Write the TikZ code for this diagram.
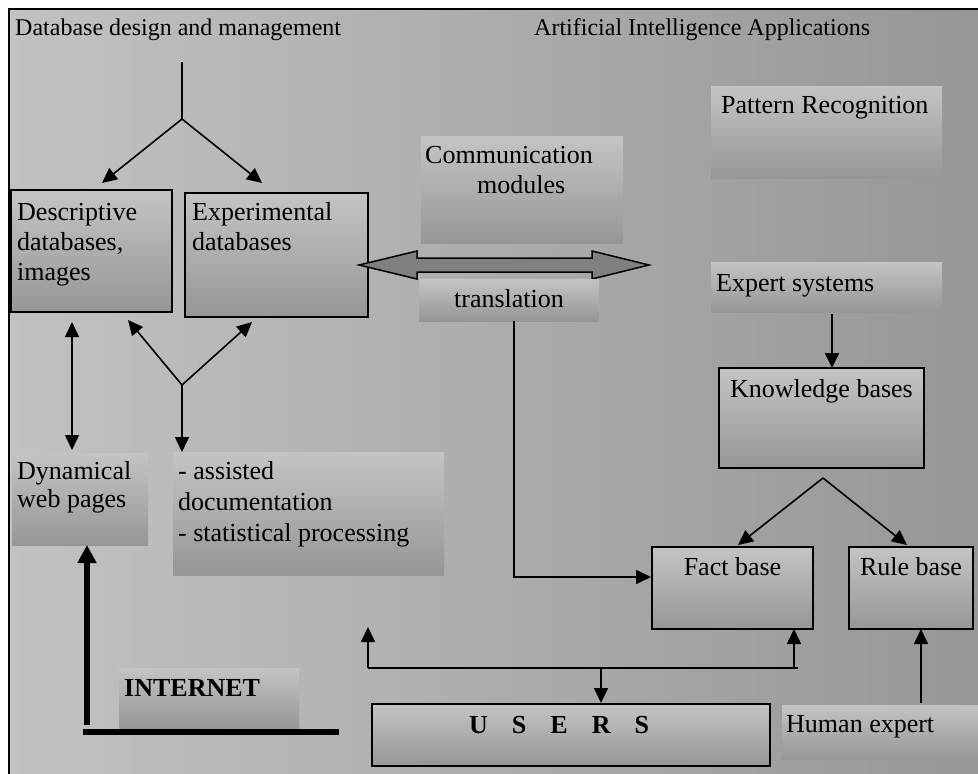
\documentclass[tikz,border=0pt]{standalone}
\usepackage{fontspec}
\setmainfont{Liberation Serif}
\usetikzlibrary{arrows.meta}

\definecolor{bgL}{RGB}{194,194,194}
\definecolor{bgR}{RGB}{150,150,150}
\definecolor{boxT}{RGB}{196,196,196}
\definecolor{boxB}{RGB}{150,150,150}
\definecolor{linkfill}{RGB}{128,128,128}

% invisible strut fixing the height of the first text line
\newcommand{\firstline}{\rule{0pt}{20pt}}

\begin{document}
\begin{tikzpicture}[x=1pt,y=-1pt,
  panel/.style={left color=bgL,right color=bgR,draw=black,line width=2pt},
  shadebox/.style={top color=boxT,bottom color=boxB,inner sep=0pt,outer sep=0pt,anchor=north west},
  framed/.style={shadebox,draw=black,line width=1.5pt},
  body/.style={font=\fontsize{26pt}{30pt}\selectfont,inner sep=0pt,align=left},
  head/.style={font=\fontsize{24pt}{28pt}\selectfont,inner sep=0pt,anchor=base west},
  wire/.style={line width=1.6pt},
  tip/.tip={Triangle[length=15pt,width=14pt]},
  arr/.style={wire,-tip},
  biarr/.style={wire,tip-tip},
  heavy/.style={line width=6pt},
]
\useasboundingbox (0,0) rectangle (978,774);
\fill[white] (0,0) rectangle (978,774);
\path[panel] (9,9) rectangle (990,790);

% ---------- boxes ----------
\node[framed,minimum width=161pt,minimum height=122pt] (desc) at (11,190) {};
\node[framed,minimum width=183pt,minimum height=124pt] (expt) at (185,193) {};
\node[shadebox,minimum width=202pt,minimum height=107pt] (comm) at (421,136) {};
\node[shadebox,minimum width=231pt,minimum height=92pt] (patt) at (711,86) {};
\node[shadebox,minimum width=231pt,minimum height=50pt] (expsys) at (711,262) {};
\node[framed,minimum width=205pt,minimum height=100pt] (know) at (719,368) {};
\node[shadebox,minimum width=136pt,minimum height=92pt] (dyn) at (12,453) {};
\node[shadebox,minimum width=271pt,minimum height=123pt] (assist) at (173,452) {};
\node[framed,minimum width=161pt,minimum height=82pt] (fact) at (652,547) {};
\node[framed,minimum width=124pt,minimum height=82pt] (rule) at (849,547) {};
\node[shadebox,minimum width=180pt,minimum height=60pt] (inet) at (119,668) {};
\node[framed,minimum width=398pt,minimum height=62pt] (users) at (372,704) {};
\node[shadebox,minimum width=196pt,minimum height=54pt] (human) at (782,705) {};

% two-way link between the database side and the AI side
\coordinate (link) at (504,265);
\begin{scope}[shift={(link)}]
  \draw[fill=linkfill,line width=1.5pt,line join=miter]
    (-145,0) -- (-87,-14) -- (-87,-7) -- (88,-7) -- (88,-14) -- (145,0)
    -- (88,14) -- (88,7) -- (-87,7) -- (-87,14) -- cycle;
\end{scope}
\node[shadebox,minimum width=180pt,minimum height=42pt] (trans) at (419,279) {};

% ---------- texts ----------
\node[head] (t1) at (15,35) {Database design and management};
\node[head] (t2) at (534,35) {Artificial Intelligence Applications};

\node[body,anchor=north west] (descT) at (17,200) {\firstline Descriptive\\databases,\\images};
\node[body,anchor=north west] (exptT) at (192,200) {\firstline Experimental\\databases};
\node[body,anchor=north west] (commT) at (425,143) {\firstline Communication\\\hspace*{52pt}modules};
\node[body,anchor=base west] (pattT) at (721,113) {Pattern Recognition};
\node[body,anchor=base] (transT) at (509,307) {translation};
\node[body,anchor=base west] (expsysT) at (716,291) {Expert systems};
\node[body,anchor=base] (knowT) at (821.5,397) {Knowledge bases};
\node[body,font=\fontsize{26pt}{28pt}\selectfont,anchor=north west] (dynT) at (17,459) {\firstline Dynamical\\web pages};
\node[body,font=\fontsize{26pt}{31pt}\selectfont,anchor=north west] (assistT) at (178,459)
  {\firstline - assisted\\documentation\\- statistical processing};
\node[body,anchor=base] (factT) at (732.5,575) {Fact base};
\node[body,anchor=base] (ruleT) at (911,575) {Rule base};
\node[body,font=\fontsize{26pt}{30pt}\selectfont\bfseries,anchor=base west] (inetT) at (124,696) {INTERNET};
\node[body,font=\fontsize{26pt}{30pt}\selectfont\bfseries,anchor=base west] (usersT) at (469,733)
  {U\hspace{24pt}S\hspace{24pt}E\hspace{24pt}R\hspace{24pt}S};
\node[body,anchor=base west] (humanT) at (786,732) {Human expert};

% ---------- connectors ----------
% database design splits into the two database kinds
\coordinate (src) at (182,62);
\coordinate (fork) at (182,119);
\coordinate (descIn) at (102,183);
\coordinate (exptIn) at (262,183);
\draw[wire] (src) -- (fork);
\draw[arr] (fork) -- (descIn);
\draw[arr] (fork) -- (exptIn);

% both databases feed documentation and processing
\coordinate (fork2) at (182,385);
\coordinate (descOut) at (128,320);
\coordinate (exptOut) at (252,322);
\draw[arr] (fork2) -- (descOut);
\draw[arr] (fork2) -- (exptOut);
\draw[arr] (fork2) -- (fork2 |- assist.north);

% descriptive databases <-> web pages
\coordinate (dx) at (72,0);
\draw[biarr,shorten <=10pt,shorten >=3pt] (desc.south -| dx) -- (dyn.north -| dx);

% translation feeds the fact base
\coordinate (bend) at (514,577);
\draw[arr,shorten >=1pt] (trans.south -| bend) -- (bend) -- (fact.west |- bend);

% expert systems -> knowledge bases -> fact / rule bases
\coordinate (kx) at (832,0);
\draw[arr,shorten <=2pt] (expsys.south -| kx) -- (know.north -| kx);
\coordinate (kfork) at (823,478);
\coordinate (factIn) at (738,545);
\coordinate (ruleIn) at (907,545);
\draw[arr] (kfork) -- (factIn);
\draw[arr] (kfork) -- (ruleIn);

% users bus
\coordinate (busL) at (368,668);
\coordinate (busR) at (798,668);
\coordinate (busUp) at (368,627);
\coordinate (busF) at (794,668);
\coordinate (busU) at (601,668);
\draw[wire] (busL) -- (busR);
\draw[arr] (busL) -- (busUp);
\draw[arr] (busF) -- (fact.south -| busF);
\draw[arr,shorten >=1pt] (busU) -- (users.north -| busU);

% human expert feeds the rule base
\coordinate (hx) at (921,0);
\draw[arr,shorten <=2pt] (human.north -| hx) -- (rule.south -| hx);

% internet
\coordinate (netTop) at (87,725);
\coordinate (netL) at (83,732);
\coordinate (netR) at (339,732);
\draw[heavy,-{Triangle[length=18pt,width=18pt]}] (netTop) -- (dyn.south -| netTop);
\draw[heavy] (netL) -- (netR);
\end{tikzpicture}
\end{document}
